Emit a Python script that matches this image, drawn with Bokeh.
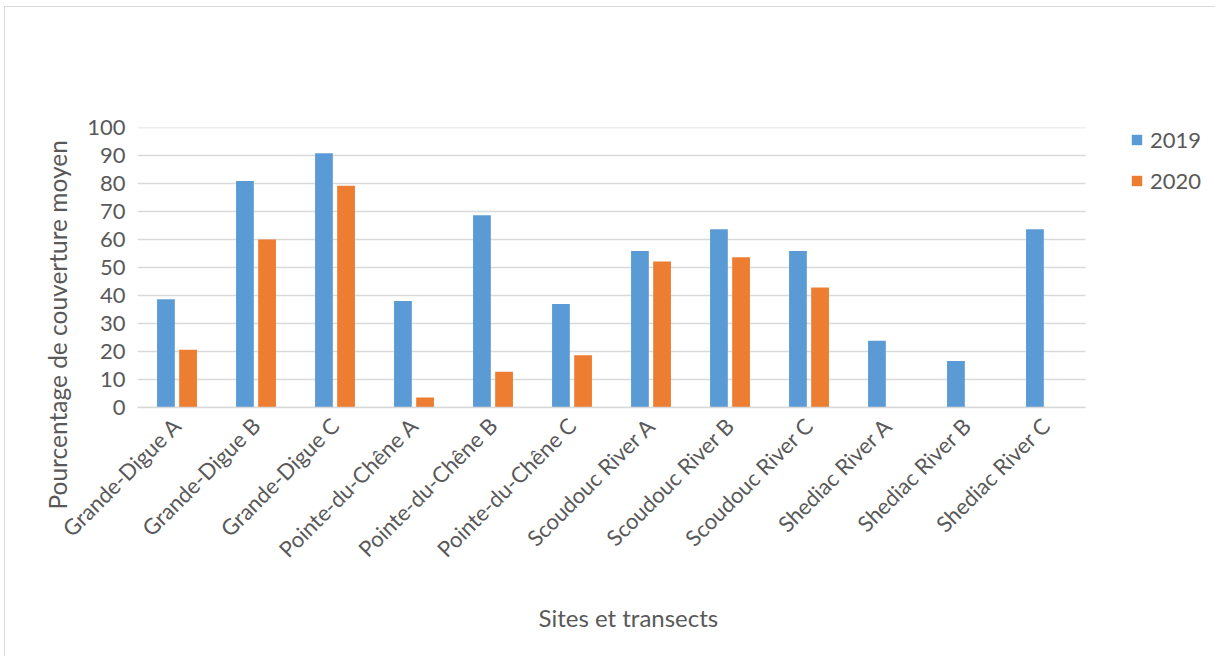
from bokeh.plotting import figure
from bokeh.models import (ColumnDataSource, Legend, LegendItem, Title, Range1d,
                          FixedTicker)
from bokeh.transform import dodge
from bokeh.embed import file_html
from bokeh.resources import INLINE
import math

# Mean cover per site / transect
sites = [
    "Grande-Digue A", "Grande-Digue B", "Grande-Digue C",
    "Pointe-du-Chêne A", "Pointe-du-Chêne B", "Pointe-du-Chêne C",
    "Scoudouc River A", "Scoudouc River B", "Scoudouc River C",
    "Shediac River A", "Shediac River B", "Shediac River C",
]
cover_2019 = [38.7, 80.9, 90.8, 38.0, 68.7, 37.0, 55.9, 63.7, 55.9, 23.8, 16.6, 63.7]
cover_2020 = [20.6, 60.0, 79.2, 3.6, 12.8, 18.7, 52.1, 53.7, 42.9, 0, 0, 0]
y_ticks = list(range(0, 101, 10))

FONT = "Lato"
TXT = "#595959"
GRID = "#d9d9d9"
BLUE = "#5b9bd5"
ORANGE = "#ed7d31"

n = len(sites)
pos = [i + 0.5 for i in range(n)]          # category centres on a numeric axis
src = ColumnDataSource(dict(pos=pos, site=sites, y2019=cover_2019, y2020=cover_2020))

# page geometry: plot area 136..1084 px horizontally, 126..406 px vertically;
# the area to the right of the categories holds the legend
W, H = 1211, 650
OX, OY = 4, 6
FL, FR, FT, FB = 136, 1213, 126, 406
cat_px = (1084 - FL) / n
x_end = (FR - FL) / cat_px

p = figure(
    x_range=Range1d(0, x_end), y_range=Range1d(0, 100),
    width=W, height=H, output_backend="svg", toolbar_location=None,
    min_border_left=FL - OX, min_border_right=(OX + W) - FR,
    min_border_top=FT - OY, min_border_bottom=(OY + H) - FB,
    margin=(OY, 0, 0, OX),
    styles={"border-top": "1px solid #d9d9d9", "border-left": "1px solid #d9d9d9"},
)
p.outline_line_color = None
p.background_fill_color = "white"
p.border_fill_color = "white"

# horizontal gridlines spanning the categories only
p.xgrid.grid_line_color = None
p.ygrid.grid_line_color = None
p.segment(x0=[0] * len(y_ticks), x1=[n] * len(y_ticks), y0=y_ticks, y1=y_ticks,
          line_color=GRID, line_width=1.5)

r1 = p.vbar(x=dodge("pos", -0.14), top="y2019", width=0.225,
            source=src, fill_color=BLUE, line_color=None)
r2 = p.vbar(x=dodge("pos", 0.14), top="y2020", width=0.225,
            source=src, fill_color=ORANGE, line_color=None)

# axes
p.yaxis.ticker = FixedTicker(ticks=y_ticks)
p.xaxis.ticker = FixedTicker(ticks=pos)
p.xaxis.major_label_overrides = {x: s for x, s in zip(pos, sites)}
p.xaxis.bounds = (0, n)
for ax in (p.xaxis, p.yaxis):
    ax.major_tick_line_color = None
    ax.minor_tick_line_color = None
    ax.major_label_text_font = FONT
    ax.major_label_text_font_size = "22px"
    ax.major_label_text_color = TXT
p.yaxis.axis_line_color = None
p.xaxis.axis_line_color = GRID
p.xaxis.axis_line_width = 1.5
p.yaxis.major_label_standoff = 6
p.xaxis.major_label_standoff = 8
p.xaxis.major_label_orientation = math.pi / 4

# axis titles
p.add_layout(Title(text="Pourcentage de couverture moyen", align="left", offset=-102,
                   text_font=FONT, text_font_size="24.5px", text_font_style="normal",
                   text_color=TXT, standoff=25), "left")
p.add_layout(Title(text="Sites et transects", align="left", offset=401,
                   text_font=FONT, text_font_size="24px", text_font_style="normal",
                   text_color=TXT, standoff=50), "below")

legend = Legend(items=[LegendItem(label="2019", renderers=[r1]),
                       LegendItem(label="2020", renderers=[r2])],
                location=(1129 - FL, 213), orientation="vertical",
                glyph_width=13, glyph_height=13, label_standoff=7,
                padding=0, margin=0, spacing=14,
                label_text_font=FONT, label_text_font_size="22px",
                label_text_color=TXT, border_line_color=None,
                background_fill_alpha=0)
p.add_layout(legend)

open("out.html", "w").write(file_html(p, INLINE))
